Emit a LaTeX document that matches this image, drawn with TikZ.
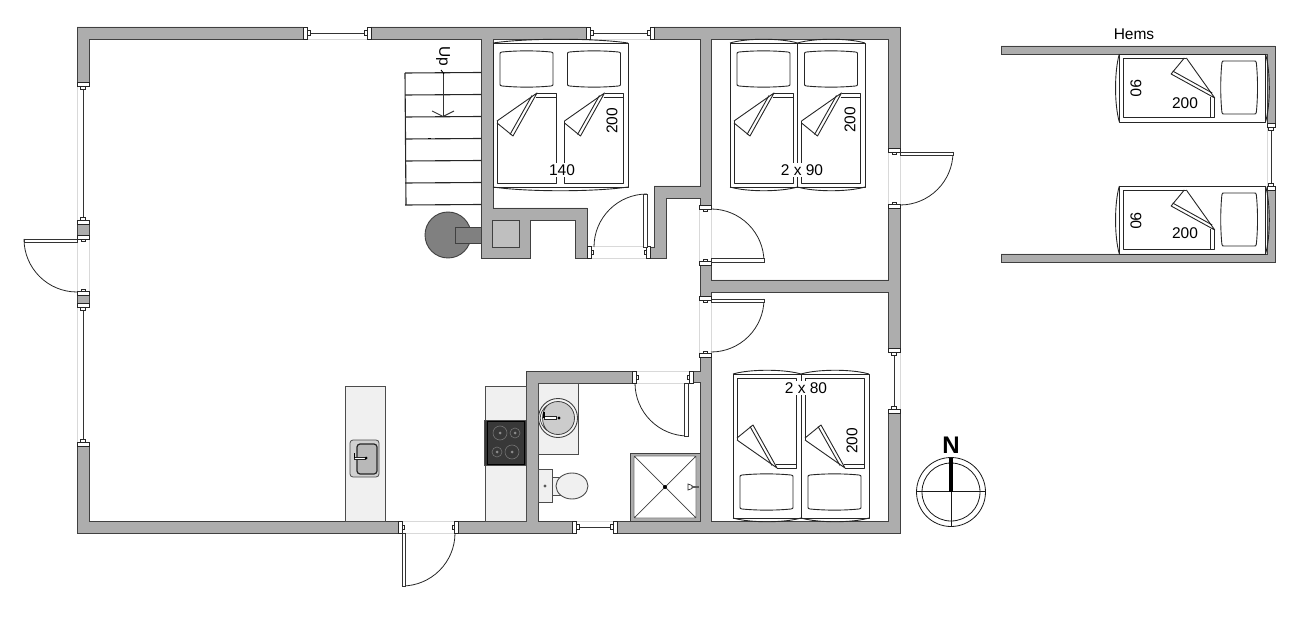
\documentclass[tikz,border=0pt]{standalone}
\usepackage{fontspec}
\setmainfont{Liberation Sans}
\tikzstyle{wall} = [draw=black!75, line width=0.9pt, fill=black!32, line join=miter]
\tikzstyle{bedline} = [draw=black!85, line width=0.9pt, line join=round]
\tikzstyle{faint} = [draw=black!15, line width=0.6pt]
\tikzstyle{capbox} = [draw=black!85, line width=0.7pt, fill=white]
\tikzstyle{leaf} = [draw=black!80, line width=0.9pt, fill=white]
\tikzstyle{fitting} = [draw=black!70, line width=0.9pt, fill=black!6]
\tikzstyle{tread} = [draw=black!85, line width=1.1pt]
\tikzstyle{size} = [inner sep=1.5pt, font=\fontsize{15.5}{17}\selectfont]
\newcommand{\wallwindow}[5]{
    \begin{scope}[shift={(#1,#2)}, rotate=#3]
        \draw[faint] (0,#5) -- (#4,#5);
        \draw[line width=0.9pt, black!80] (6,0) -- ({#4-6},0);
        \draw[capbox] (4,-2.5) rectangle (7,2.5);
        \draw[capbox] ({#4-7},-2.5) rectangle ({#4-4},2.5);
        \draw[capbox] (0,-#5) rectangle (4,#5);
        \draw[capbox] ({#4-4},-#5) rectangle (#4,#5);
    \end{scope}
}
\newcommand{\wallgap}[4]{
    \begin{scope}[shift={(#1,#2)}, rotate=#3]
        \draw[faint] (0,-6) -- (#4,-6);
        \draw[faint] (0,6) -- (#4,6);
        \draw[capbox] (4,-2) rectangle (6,2);
        \draw[capbox] ({#4-6},-2) rectangle ({#4-4},2);
        \draw[capbox] (0,-6) rectangle (4,6);
        \draw[capbox] ({#4-4},-6) rectangle (#4,6);
    \end{scope}
}
\newcommand{\doorswing}[3]{
    \begin{scope}[shift={(#1,#2)}, #3]
        \draw[line width=0.8pt, black!85] (53,0) arc[start angle=0, end angle=-90, radius=53pt];
        \draw[leaf] (0,0) rectangle (53,3.5);
    \end{scope}
}
\newcommand{\bedframe}[3]{
    \begin{scope}[shift={(#1)}, #3]
        \draw[bedline] (0,0) rectangle (#2,144);
        \draw[bedline] (0,0) .. controls ({#2*0.25},-5) and ({#2*0.75},-5) .. (#2,0);
        \draw[bedline] (0,144) .. controls ({#2*0.25},149) and ({#2*0.75},149) .. (#2,144);
    \end{scope}
}
\newcommand{\bedhalf}[2]{
    \begin{scope}[shift={(#1)}, #2]
        \draw[bedline] (9,9) .. controls (25,7.5) and (42,7.5) .. (58,9) .. controls (60,9.5) .. (60,11) -- (60,41)
            .. controls (60,42.5) .. (58,43) .. controls (42,44.5) and (25,44.5) .. (9,43)
            .. controls (7,42.5) .. (7,41) -- (7,11) .. controls (7,9.5) .. cycle;
        \draw[bedline] (4,78) -- (4,140) -- (63,140) -- (63,50) -- (44,50);
        \draw[bedline] (43,54) -- (63,54);
        \draw[bedline] (4,78) -- (44,50) -- (20,93) -- (4,80);
        \draw[bedline] (17,91.5) -- (39,52.5);
    \end{scope}
}
\begin{document}
\begin{tikzpicture}[x=1pt, y=-1pt]
    \useasboundingbox (0,0) rectangle (1306,620);

    \draw[wall] (77,82) -- (77,27) -- (303,27) -- (303,39) -- (89,39) -- (89,82) -- cycle;
    \draw[wall] (371,27) -- (586,27) -- (586,39) -- (493,39) -- (493,208) -- (587,208) -- (587,258) -- (575,258)
        -- (575,220) -- (530,220) -- (530,258) -- (481,258) -- (481,39) -- (371,39) -- cycle;
    \draw[wall] (654,27) -- (900,27) -- (900,148) -- (888,148) -- (888,39) -- (711,39) -- (711,205) -- (700,205)
        -- (700,198) -- (666,198) -- (666,258) -- (650,258) -- (650,247) -- (654,247) -- (654,186) -- (700,186)
        -- (700,39) -- (654,39) -- cycle;
    \draw[wall] (888,208) -- (900,208) -- (900,348) -- (888,348) -- (888,292) -- (711,292) -- (711,296) -- (700,296)
        -- (700,265) -- (711,265) -- (711,280) -- (888,280) -- cycle;
    \draw[wall] (888,413) -- (900,413) -- (900,533) -- (617,533) -- (617,521) -- (700,521) -- (700,382) -- (693,382)
        -- (693,371) -- (700,371) -- (700,357) -- (711,357) -- (711,521) -- (888,521) -- cycle;
    \draw[wall] (526,371) -- (632,371) -- (632,383) -- (538,383) -- (538,521) -- (572,521) -- (572,533) -- (458,533)
        -- (458,521) -- (526,521) -- cycle;
    \draw[wall] (77,446) -- (89,446) -- (89,521) -- (398,521) -- (398,533) -- (77,533) -- cycle;
    \draw[wall] (77,224) rectangle (89,235);
    \draw[wall] (77,295) rectangle (89,303);
    \draw[wall] (1001,46) -- (1275,46) -- (1275,123) -- (1267,123) -- (1267,54) -- (1001,54) -- cycle;
    \draw[wall] (1267,190) -- (1275,190) -- (1275,262) -- (1001,262) -- (1001,254) -- (1267,254) -- cycle;

    \wallwindow{303}{33}{0}{68}{6}
    \wallwindow{586}{33}{0}{68}{6}
    \wallwindow{83}{82}{-90}{142}{6}
    \wallwindow{83}{303}{-90}{143}{6}
    \wallwindow{894}{413}{90}{65}{6}
    \wallwindow{617}{527}{180}{45}{6}
    \wallwindow{1271}{123}{-90}{67}{4}

    \wallgap{83}{235}{-90}{60}
    \wallgap{398}{527}{0}{60}
    \wallgap{587}{252.5}{0}{63}
    \wallgap{894}{148}{-90}{60}
    \wallgap{705.5}{205}{-90}{60}
    \wallgap{705.5}{296}{-90}{61}
    \wallgap{632}{377}{0}{61}

    \doorswing{77}{239}{xscale=-1}
    \doorswing{402}{533}{rotate=-90, yscale=-1}
    \doorswing{647}{247}{rotate=90, yscale=-1}
    \doorswing{900}{152}{}
    \doorswing{711}{262}{yscale=-1}
    \doorswing{711}{299}{}
    \doorswing{688}{383}{rotate=-90}

    \foreach \stepy in {73,95,117,139,161,183,205}
        \draw[tread] (405,\stepy) -- (481,\stepy-0.5);
    \draw[tread] (405,73) -- (406,205);
    \draw[line width=0.9pt, black!80] (443,73) -- (443,116);
    \draw[line width=0.9pt, black!80] (432,111) -- (443,116.5) -- (454,111);
    \draw[line width=0.9pt, black] (441,70) -- (444,74);
    \draw[line width=1.2pt, black] (428,138.5) -- (431,138.5);
    \node (stairlabel) [size, rotate=-90] at (443,56) {Up};

    \draw[fill=black!50, draw=black!75, line width=0.9pt] (448,235) circle[radius=23pt];
    \draw[fill=black!50, draw=black!75, line width=0.9pt] (455,227) rectangle (481,243);
    \draw[fill=black!25, draw=black!75, line width=0.9pt] (492,220) rectangle (519,247);

    \bedframe{493,43}{135}{}
    \bedhalf{493,43}{}
    \bedhalf{560.5,43}{}
    \bedframe{730,43}{67.5}{}
    \bedframe{797.5,43}{67.5}{}
    \bedhalf{730,43}{}
    \bedhalf{797.5,43}{}
    \bedframe{733,518}{68}{yscale=-1}
    \bedframe{801,518}{68}{yscale=-1}
    \bedhalf{733,518}{yscale=-1}
    \bedhalf{801,518}{yscale=-1}
    \bedframe{1265.5,54}{68}{rotate=-90, yscale=1.015}
    \bedhalf{1265.5,54}{rotate=-90, yscale=1.015}
    \bedframe{1265.5,186}{68}{rotate=-90, yscale=1.015}
    \bedhalf{1265.5,186}{rotate=-90, yscale=1.015}

    \node (bedAwidth) [size, fill=white] at (562,170) {140};
    \node (bedAlength) [size, rotate=90] at (612,121) {200};
    \node (bedBwidth) [size, fill=white] at (802,170) {2 x 90};
    \node (bedBlength) [size, rotate=90] at (850,120) {200};
    \node (bedCwidth) [size, fill=white] at (806,388) {2 x 80};
    \node (bedClength) [size, rotate=90] at (852,441) {200};
    \node (hemslabel) [size] at (1134,34) {Hems};
    \node (bedDwidth) [size, rotate=-90] at (1136,88.5) {90};
    \node (bedDlength) [size] at (1185,103) {200};
    \node (bedEwidth) [size, rotate=-90] at (1136,221) {90};
    \node (bedElength) [size] at (1185,233) {200};

    \draw[fitting] (345,386) rectangle (385,521);
    \draw[fill=black!18, draw=black!70, line width=0.8pt, rounded corners=3pt] (350,440) rectangle (379,477);
    \draw[fill=black!28, draw=black!85, line width=1.2pt, rounded corners=3pt] (357,444) rectangle (377,474);
    \draw[capbox] (354,457) rectangle (365,459.5);
    \draw[line width=1.2pt, black] (354.5,453) -- (354.5,458);
    \fill[black] (366,458) circle[radius=1.5pt];

    \draw[fitting] (485,386) rectangle (526,521);
    \draw[fill=black!78, draw=black!70, line width=0.8pt] (484,420) rectangle (526,465);
    \draw[draw=black, line width=1pt] (487,421) rectangle (524,464);
    \foreach \hobx/\hoby/\hobr in {500/433/7, 515/433/5, 497/452/5, 512/452/7} {
        \draw[black!55, line width=0.6pt] (\hobx,\hoby) circle[radius=\hobr pt];
        \fill[black!45] (\hobx,\hoby) circle[radius=1.5pt];
    }

    \draw[fitting] (538,383) rectangle (578,454);
    \draw[fill=black!4, draw=black!75, line width=0.9pt] (558,418) circle[radius=19.5pt];
    \draw[fill=black!20, draw=black!75, line width=0.8pt] (558,418) circle[radius=16.5pt];
    \draw[fill=black!4, draw=black!75, line width=0.7pt] (547,405.5) .. controls (541,413) and (541,423) .. (547,430.5)
        .. controls (538,423) and (538,413) .. (547,405.5);
    \draw[capbox] (544,416.5) rectangle (556,419.5);
    \draw[line width=1.2pt, black] (544,412) -- (544,418);
    \fill[black] (559,418) circle[radius=1.6pt];

    \draw[fitting] (538,469) rectangle (552,502);
    \fill[black!65] (545,486) circle[radius=1.6pt];
    \draw[fitting] (552,477) rectangle (560,495);
    \draw[fitting] (572,486) ellipse[x radius=16pt, y radius=13pt];

    \draw[wall] (630,453) rectangle (700,521);
    \draw[draw=black!55, line width=0.8pt, fill=white, rounded corners=2pt] (634,456) rectangle (696,518);
    \draw[draw=black!75, line width=0.7pt] (634,456) -- (696,518);
    \draw[draw=black!75, line width=0.7pt] (696,456) -- (634,518);
    \fill[black] (665,487) circle[radius=2pt];
    \draw[line width=1.5pt, black!65] (691,487) -- (699,487);
    \draw[capbox] (688,484) -- (692,485.5) -- (692,488.5) -- (688,490) -- cycle;

    \node (north) [font=\bfseries\fontsize{24}{24}\selectfont, inner sep=0pt] at (951,445) {N};
    \draw[line width=0.8pt, black!90] (951,492) circle[radius=34.5pt];
    \draw[line width=0.8pt, black!90] (951,492) circle[radius=29pt];
    \draw[line width=0.8pt, black!90] (916.5,491.5) -- (985.5,491.5);
    \draw[line width=0.8pt, black!90] (951,457.5) -- (951,526.5);
    \draw[line width=4.5pt, black] (951,458) -- (951,492);
\end{tikzpicture}
\end{document}
